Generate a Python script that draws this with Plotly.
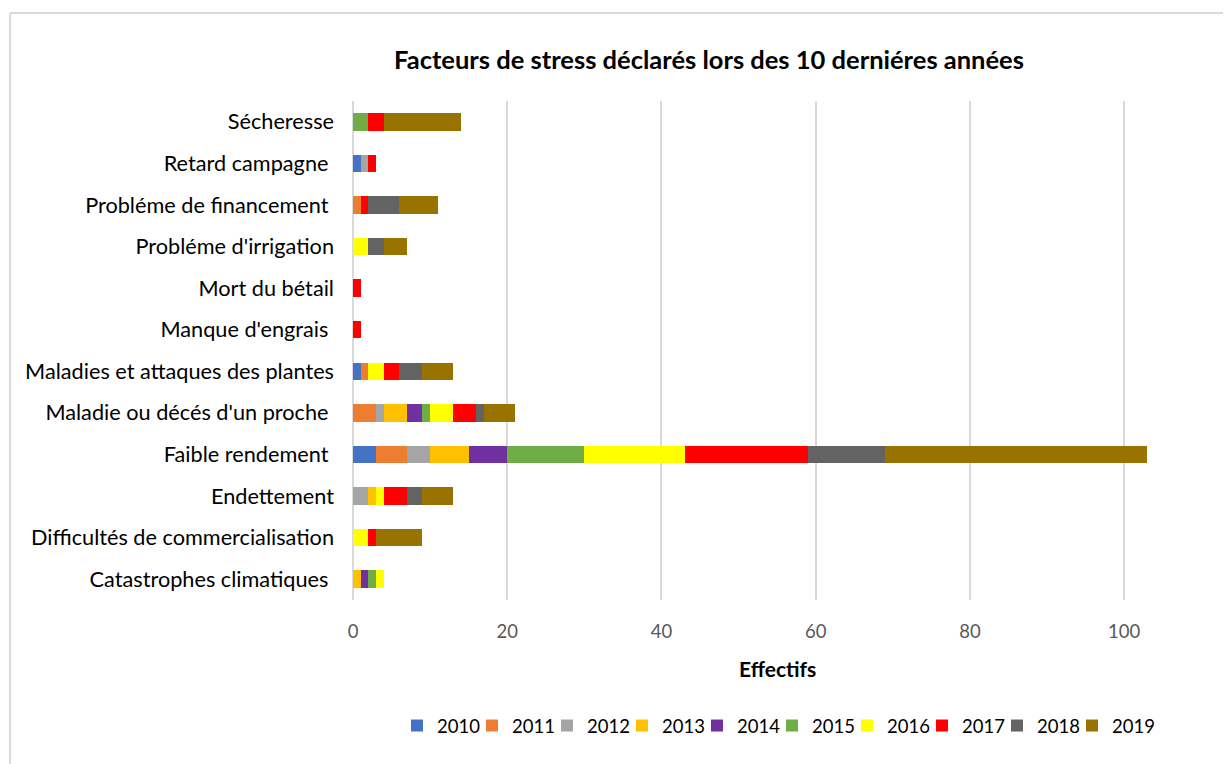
import plotly.graph_objects as go

categories = ["Sécheresse", "Retard campagne\u00a0", "Probléme de financement\u00a0",
              "Probléme d'irrigation", "Mort du bétail", "Manque d'engrais\u00a0",
              "Maladies et attaques des plantes", "Maladie ou décés d'un proche\u00a0",
              "Faible rendement\u00a0", "Endettement", "Difficultés de commercialisation",
              "Catastrophes climatiques\u00a0"]

years = ["2010", "2011", "2012", "2013", "2014", "2015", "2016", "2017", "2018", "2019"]

v2010 = [0, 1, 0, 0, 0, 0, 1, 0, 3, 0, 0, 0]
v2011 = [0, 0, 1, 0, 0, 0, 1, 3, 4, 0, 0, 0]
v2012 = [0, 1, 0, 0, 0, 0, 0, 1, 3, 2, 0, 0]
v2013 = [0, 0, 0, 0, 0, 0, 0, 3, 5, 1, 0, 1]
v2014 = [0, 0, 0, 0, 0, 0, 0, 2, 5, 0, 0, 1]
v2015 = [2, 0, 0, 0, 0, 0, 0, 1, 10, 0, 0, 1]
v2016 = [0, 0, 0, 2, 0, 0, 2, 3, 13, 1, 2, 1]
v2017 = [2, 1, 1, 0, 1, 1, 2, 3, 16, 3, 1, 0]
v2018 = [0, 0, 4, 2, 0, 0, 3, 1, 10, 2, 0, 0]
v2019 = [10, 0, 5, 3, 0, 0, 4, 4, 34, 4, 6, 0]

series = [v2010, v2011, v2012, v2013, v2014, v2015, v2016, v2017, v2018, v2019]
colors = ["#4472C4", "#ED7D31", "#A5A5A5", "#FFC000", "#7030A0",
          "#70AD47", "#FFFF00", "#FF0000", "#636363", "#997300"]

FONT = "Lato"
OFF = 8  # page body margin
W, H = 1231 - OFF, 764 - OFF
# plot area in page pixels: x 353..1155, y 101..600
ml = 353 - OFF
mt = 101 - OFF
mr = W - (1155 - OFF)
mb = H - (600 - OFF)
pw = W - ml - mr
ph = H - mt - mb

def px(x):
    return (x - OFF - ml) / pw

def py(y):
    return (H - mb - (y - OFF)) / ph

fig = go.Figure()
for yr, vals, c in zip(years, series, colors):
    fig.add_trace(go.Bar(
        y=categories, x=vals, name=yr, orientation="h",
        marker=dict(color=c, line=dict(width=0)),
    ))
# spacer legend entry (invisible) so the last legend label is not clipped
fig.add_trace(go.Bar(y=[None], x=[None], name="\u00a0", orientation="h",
                     marker=dict(color="rgba(0,0,0,0)", line=dict(width=0)),
                     hoverinfo="skip"))

ENTRY = 75  # legend spacing in px
legend_right = 397 + 11 * ENTRY  # page px

fig.update_layout(
    width=W, height=H,
    barmode="stack", bargap=0.58,
    margin=dict(l=ml, r=mr, t=mt, b=mb, autoexpand=False),
    paper_bgcolor="white", plot_bgcolor="white",
    font=dict(family=FONT, color="#262626"),
    title=dict(text="<b>Facteurs de stress déclarés lors des 10 derniéres années</b>",
               x=(709 - OFF) / W, xref="container", xanchor="center",
               y=1 - (60 - OFF) / H, yref="container", yanchor="middle",
               font=dict(family=FONT, size=25.5, color="#000000")),
    xaxis=dict(range=[0, 104], tickvals=[0, 20, 40, 60, 80, 100],
               showgrid=True, gridcolor="#D9D9D9", gridwidth=2,
               zeroline=True, zerolinecolor="#D9D9D9", zerolinewidth=2,
               showline=False, ticks="", ticklabelstandoff=18,
               tickfont=dict(family=FONT, size=18.5, color="#595959")),
    yaxis=dict(autorange="reversed", showgrid=False, showline=False, ticks="",
               ticklabelstandoff=18,
               tickfont=dict(family=FONT, size=21.7, color="#000000")),
    legend=dict(orientation="h", xref="paper", x=px(legend_right), xanchor="right",
                yref="paper", y=py(726), yanchor="middle",
                font=dict(family=FONT, size=18.5, color="#000000"),
                entrywidth=ENTRY - 45, entrywidthmode="pixels", traceorder="normal",
                itemclick=False),
    showlegend=True,
    annotations=[dict(text="<b>Effectifs</b>", x=px(777), y=py(668), xref="paper", yref="paper",
                      showarrow=False, xanchor="center", yanchor="middle",
                      font=dict(family=FONT, size=21, color="#000000"))],
    shapes=[
        dict(type="line", xref="paper", yref="paper", x0=px(10), x1=px(1260), y0=py(13), y1=py(13),
             line=dict(color="#D9D9D9", width=2)),
        dict(type="line", xref="paper", yref="paper", x0=px(10), x1=px(10), y0=py(13), y1=py(790),
             line=dict(color="#D9D9D9", width=2)),
    ],
)

fig.write_html("out.html")
